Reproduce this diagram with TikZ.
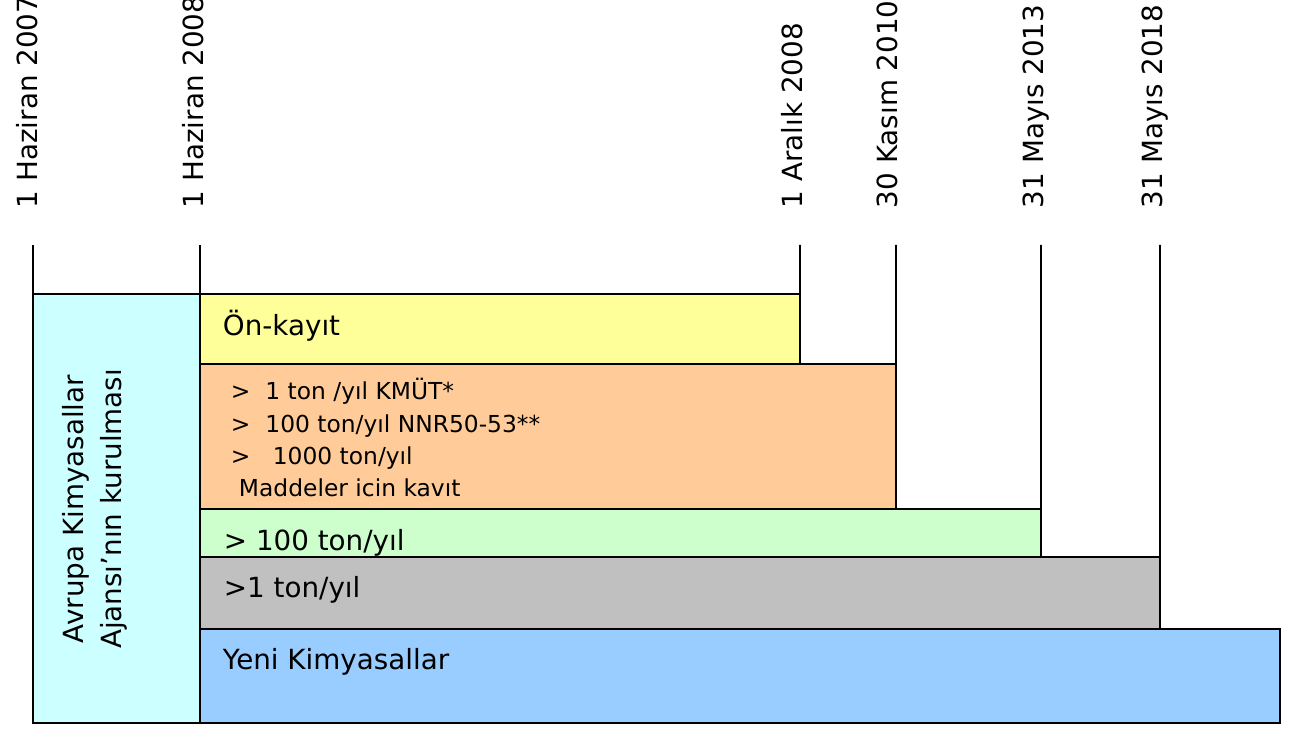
\documentclass[tikz,border=0pt]{standalone}
\usepackage{fontspec}
\setmainfont{DejaVu Sans}
\usetikzlibrary{positioning}

\definecolor{ajanscol}{HTML}{CCFFFF}
\definecolor{onkayitcol}{HTML}{FFFF99}
\definecolor{maddecol}{HTML}{FFCC99}
\definecolor{yuzcol}{HTML}{CCFFCC}
\definecolor{bircol}{HTML}{C0C0C0}
\definecolor{yenicol}{HTML}{99CCFF}

\begin{document}
\begin{tikzpicture}[
    line width=1.1pt,
    every node/.style={font=\fontsize{15.8}{21.6}\selectfont},
    band/.style 2 args={draw, inner sep=0pt, outer sep=0pt, minimum width=#1, minimum height=#2},
    datelbl/.style={rotate=90, anchor=base west, inner sep=0pt},
    bandlbl/.style={anchor=base west, inner sep=0pt}
]
\useasboundingbox (0,0) rectangle (25.96,14.62);

% kutular
\node[band={3.34cm}{8.58cm}, fill=ajanscol, anchor=north west] (ajans) at (0.66,8.74) {};
\node[band={12cm}{1.40cm}, fill=onkayitcol, anchor=north west] (onkayit) at (4.0,8.74) {};
\node[band={13.92cm}{2.90cm}, fill=maddecol, below right=0cm and 0cm of onkayit.south west] (madde) {};
\node[band={16.82cm}{0.96cm}, fill=yuzcol, below right=0cm and 0cm of madde.south west] (yuz) {};
\node[band={19.2cm}{1.44cm}, fill=bircol, below right=0cm and 0cm of yuz.south west] (bir) {};
\node[band={21.6cm}{1.88cm}, fill=yenicol, below right=0cm and 0cm of bir.south west] (yeni) {};

% tarihler
\node[datelbl] (d1) at (0.74,10.44) {1 Haziran 2007};
\node[datelbl] (d2) at (4.06,10.44) {1 Haziran 2008};
\node[datelbl] (d3) at (16.04,10.44) {1 Aralık 2008};
\node[datelbl] (d4) at (17.94,10.44) {30 Kasım 2010};
\node[datelbl] (d5) at (20.86,10.44) {31 Mayıs 2013};
\node[datelbl] (d6) at (23.24,10.44) {31 Mayıs 2018};

% dikey cizgiler
\coordinate (tick1) at (0.66,9.72);
\coordinate (tick2) at (4.0,9.72);
\coordinate (tick3) at (16.0,9.72);
\coordinate (tick4) at (17.92,9.72);
\coordinate (tick5) at (20.82,9.72);
\coordinate (tick6) at (23.2,9.72);
\draw (tick1) -- (ajans.north west);
\draw (tick2) -- (onkayit.north west);
\draw (tick3) -- (onkayit.north east);
\draw (tick4) -- (madde.north east);
\draw (tick5) -- (yuz.north east);
\draw (tick6) -- (bir.north east);

% yazilar
\node[rotate=90, align=center, inner sep=0pt] (ajanslbl) at (1.90,4.44) {Avrupa Kimyasallar\\Ajansı’nın kurulması};
\node[bandlbl] (onkayitlbl) at (4.44,7.90) {Ön-kayıt};
\node[bandlbl, align=left, font=\fontsize{13.3}{18.4}\selectfont] (maddelbl) at (4.60,4.68)
    {> \ 1 ton /yıl KMÜT*\\> \ 100 ton/yıl NNR50-53**\\> \ \ 1000 ton/yıl\\\hspace*{0.16cm}Maddeler icin kavıt};
\node[bandlbl] (yuzlbl) at (4.46,3.60) {> 100 ton/yıl};
\node[bandlbl] (birlbl) at (4.46,2.66) {>1 ton/yıl};
\node[bandlbl] (yenilbl) at (4.44,1.22) {Yeni Kimyasallar};

\end{tikzpicture}
\end{document}
